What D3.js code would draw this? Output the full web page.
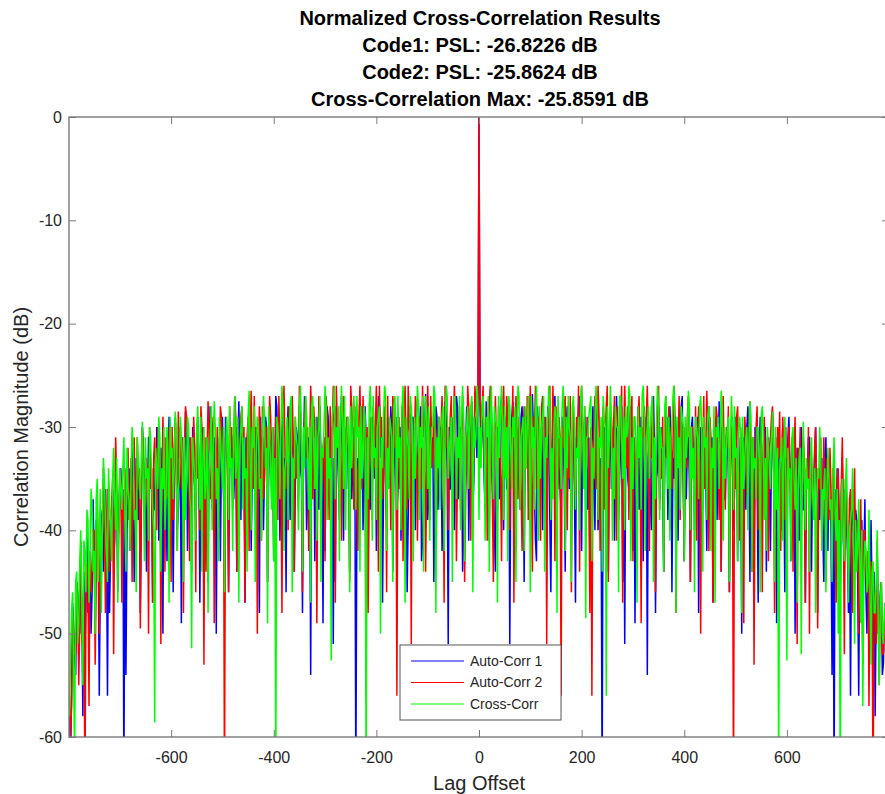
<!DOCTYPE html>
<html><head><meta charset="utf-8">
<script src="https://cdn.jsdelivr.net/npm/d3@7"></script>
<style>
body{margin:0;background:#fff}
svg{display:block;font-family:"Liberation Sans",Arial,Helvetica,sans-serif}
</style>
</head><body>
<svg id="chart" width="885" height="794"></svg>
<script>
const titleLines = ["Normalized Cross-Correlation Results","Code1: PSL: -26.8226 dB","Code2: PSL: -25.8624 dB","Cross-Correlation Max: -25.8591 dB"];
const xLabel = "Lag Offset";
const yLabel = "Correlation Magnitude (dB)";
const seriesNames = ["Auto-Corr 1","Auto-Corr 2","Cross-Corr"];
const seriesColors = ["#0000ff","#ff0000","#00ff00"];
const xTicks = [-600,-400,-200,0,200,400,600];
const yTicks = [0,-10,-20,-30,-40,-50,-60];
const xDomain = [-799, 799];
const yDomain = [-60, 0];
const lagStep = 2;

// Auto-correlations are symmetric: values at lags 0,2,4,...,798 (dB)
const autoCorr1Half = [0,-28,
-33,-30,-29,-35,-38,-27.5,-31,-34,-41,-29,-28,-32,-35,-40,-44,-31,-30,-33,-37,-28,
-27,-33,-40,-29,-32,-36,-36,-30,-51,-34,-29,-27.5,-34,-39,-42,-30,-31,-35,-38,-29,
-28,-34,-45,-31,-33,-29,-30,-37,-39,-32,-26.8,-30,-36,-41,-43,-28,-31,-33,-35,-30,
-40,-31,-29,-35,-37,-28,-32,-39,-46,-33,-30,-27.5,-27,-34,-41,-30,-34,-36,-38,-29,
-31,-35,-44,-30,-28,-33,-36,-29,-39,-32,-30,-36,-47,-31,-33,-28,-27,-34,-42,-30,
-35,-29.5,-29,-34,-38,-31,-43,-33,-31,-28,-36,-40,-28,-32,-40,-35,-33,-38,-65,-31,
-30,-34,-37,-28,-44,-32,-29,-36,-34,-30,-41,-33,-27,-31,-39,-35,-32,-28,-45,-33,
-51,-32,-30,-35,-36,-29,-28,-33,-42,-31,-49,-34,-33,-28,-38,-36,-29,-32,-43,-30,
-35,-29,-54,-33,-31,-37,-40,-30,-27,-32,-48,-35,-34,-28,-37,-31,-30,-36,-44,-33,
-32,-29,-39,-34,-28,-31,-46,-33,-35,-29,-30,-36,-41,-32,-33,-28,-27,-35,-43,-30,
-37,-32,-31,-35,-45,-30,-29,-34,-40,-31,-34,-29,-48,-36,-30,-33,-38,-31,-33,-35,
-42,-30,-28,-33,-36,-31,-47,-35,-31,-29,-39,-34,-27.5,-32,-44,-30,-34,-37,-37,-31,
-30,-35,-46,-32,-33,-29,-40,-36,-29,-33,-43,-31,-36,-34,-50,-32,-31,-36,-38,-30,
-28,-33,-45,-31,-35,-37,-41,-30,-32,-35,-47,-33,-29,-31,-39,-36,-34,-30,-44,-34,
-31,-36,-42,-32,-28.5,-34,-37,-31,-49,-35,-33,-38,-40,-32,-30,-35,-46,-33,-36,-31,
-29,-34,-43,-36,-35,-31,-50,-37,-32,-35,-41,-33,-30,-38,-38,-34,-47,-36,-34,-31,
-31,-37,-44,-35,-36,-33,-30,-38,-48,-36,-39,-34,-33,-40,-45,-35,-31,-37,-42,-34,
-37,-40,-54,-38,-65,-36,-40,-34,-35,-39,-46,-37,-33,-41,-43,-36,-38,-42,-48,-39,
-56,-41,-36,-40,-44,-38,-39,-45,-56,-42,-41,-39,-47,-43,-37,-46,-50,-44,-43,-48,
-39,-46,-52,-44,-58,-48,-42,-50,-49,-46,-45,-54,-53,-49,-47,-56,-62,-58];

const autoCorr2Half = [0,-27,
-30,-28,-26,-33,-36,-29,-41,-31,-28,-26,-33,-37,-45,-30,-27,-32,-38,-28,-31,-35,
-43,-29,-26,-31,-35,-27,-29,-34,-40,-30,-32,-26,-47,-33,-27,-30,-37,-29,-30,-36,
-42,-31,-28,-33,-34,-27,-39,-30,-26,-35,-44,-29,-31,-26,-36,-32,-29,-34,-41,-28,
-27,-32,-35,-29,-51,-31,-30,-26,-38,-33,-26,-30,-43,-28,-33,-36,-29,-31,-56,-30,
-32,-28,-27,-34,-40,-30,-35,-27,-46,-32,-28,-35,-37,-29,-31,-26,-44,-33,-26,-30,
-34,-28,-39,-31,-29,-35,-48,-30,-56,-33,-30,-27,-36,-32,-26,-29,-42,-34,-33,-28,
-38,-31,-28,-26,-45,-33,-31,-29,-35,-30,-27,-34,-41,-28,-37,-32,-30,-26,-47,-31,
-26,-30,-34,-28,-39,-33,-29,-27,-43,-31,-32,-35,-36,-29,-27,-33,-49,-30,-31,-28,
-37,-29,-26,-32,-42,-30,-33,-27,-30,-34,-46,-31,-28,-26,-38,-33,-35,-29,-44,-31,
-27,-33,-31,-28,-40,-30,-36,-32,-26,-29,-48,-34,-32,-27,-39,-31,-29,-35,-43,-30,
-34,-29,-27,-32,-45,-30,-30,-35,-37,-28,-41,-31,-28,-33,-50,-30,-33,-27,-36,-32,
-26.5,-31,-42,-29,-31,-34,-47,-30,-35,-28,-29,-33,-39,-31,-44,-29,-27,-34,-38,-30,
-32,-28,-46,-33,-30,-35,-65,-31,-36,-29,-28,-34,-41,-30,-34,-32,-49,-29,-31,-36,
-37,-30,-27.5,-33,-44,-31,-53,-35,-30,-28,-40,-33,-35,-30,-46,-32,-29,-35,-38,-31,
-43,-32,-31,-29,-28,-34,-48,-31,-36,-30,-33,-28.5,-42,-35,-29,-32,-39,-30,-45,-33,
-30,-35,-37,-31,-44,-33,-29,-36,-51,-32,-34,-30,-40,-35,-31,-33,-47,-34,-36,-30,
-50,-35,-33,-37,-38,-32,-30,-36,-49.5,-34,-36,-31,-41,-37,-31,-35,-45,-33,-37,-39,
-32,-36,-43,-34,-39,-37,-47,-35,-34,-40,-41,-36,-31,-38,-52,-35,-38,-41,-44,-37,
-36,-42,-48,-38,-34,-43,-42,-39,-50,-41,-37,-45,-53,-40,-40,-44,-46,-42,-57,-45,
-43,-48,-65,-46,-47,-51,-41,-49,-55,-47,-45,-52,-52,-50,-48,-57,-60,-56];

// Cross-correlation at lags -798,-796,...,798 (dB)
const crossCorr = [
-58,-52,-48,-46,-54,-62,-45,-44,-51,-49,-43,-40,-47,-55,-41,-42,-46,-38,-39,-47,
-43,-36,-38,-44,-42,-50,-37,-35,-45,-41,-36,-48,-40,-33,-35,-39,-42,-45,-34,-37,
-39,-43,-35,-32,-37,-40,-33,-47,-41,-34,-36,-38,-34,-31,-39,-44,-32,-36,-37,-42,
-34,-30,-32,-39,-38,-46,-31,-33,-35,-37,-33,-29.5,-36,-43,-31,-35,-34,-41,-30,-31,
-35,-38,-40,-58.6,-32,-34,-36,-29,-31,-44,-34,-36,-30,-40,-37,-30,-33,-47,-29,-33,
-32,-37,-34,-28.5,-30,-42,-36,-35,-29,-31,-33,-45,-31,-39,-35,-29,-30,-36,-38,-51.4,
-31,-33,-35,-41,-30,-28,-34,-38,-29,-44,-33,-30,-37,-35,-31,-48,-34,-32,-28,-40,
-32,-27.5,-30,-37,-34,-43,-29,-31,-33,-36,-30,-46,-35,-29,-31,-39,-28,-34,-33,-42,
-30,-27,-35,-33,-29,-47,-32,-30,-28,-38,-31,-35,-34,-44,-29,-26.5,-33,-40,-30,-32,
-28,-45,-33,-29,-30,-36,-35,-41,-31,-27,-29,-34,-32,-49,-28,-31,-34,-38,-30,-43,
-33,-65,-29,-30,-32,-37,-30,-26,-28,-42,-34,-33,-29,-39,-31,-28,-27,-46,-33,-35,
-29,-31,-32,-40,-28,-26,-31,-44,-30,-34,-27,-29,-33,-38,-30,-47,-28,-27,-32,-36,
-29,-41,-31,-30,-27,-45,-32,-33,-30,-26,-28,-39,-31,-35,-33,-52.6,-29,-28,-26,-37,
-30,-32,-28,-43,-31,-26,-29,-36,-27,-40,-32,-29,-30,-46,-28,-34,-31,-27,-29,-38,
-27,-31,-30,-44,-28,-35,-32,-28,-29,-65,-31,-37,-28,-26,-30,-41,-27,-33,-32,-39,
-30,-29,-28,-50,-31,-34,-29,-26,-27,-42,-32,-36,-29,-30,-31,-45,-28,-27,-30,-38,
-27,-33,-31,-40,-28,-26,-30,-47,-29,-31,-32,-37,-27,-28,-30,-43,-29,-35,-31,-26,
-28,-39,-30,-32,-27,-44,-31,-27,-29,-36,-28,-41,-32,-30,-30,-26,-27,-48,-31,-34,
-29,-38,-31,-29,-28,-42,-30,-26,-27,-35,-32,-31,-29,-45,-30,-27,-28,-37,-31,-33,
-27,-40,-30,-26,-29,-43,-31,-30,-28,-36,-30,-28,-27,-46,-29,-32,-31,-26,-28,-39,
-30,-34,-28,-27,-31,-41,-29,-31,-27,-44,-30,-26,-32,-37,-28,-29,-30,-47,-27,-33,
-29,-26,-31,-39,-28,-35,-30,-43,-27,-28,-32,-36,-29,-31,-28,-45,-30,-26,-27,-38,
-31,-30,-29,-42,-28,-34,-30,-27,-32,-46,-27,-32,-30,-38,-29,-26,-31,-41,-28,-35,
-30,-29,-27,-44,-31,-33,-29,-26,-28,-39,-32,-37,-30,-28,-29,-48,-27,-31,-31,-36,
-28,-26,-30,-42,-29,-34,-27,-30,-31,-45,-28,-27,-30,-38,-32,-33,-29,-40,-27,-26,
-30,-36,-28,-48.5,-31,-31,-29,-28,-27,-43,-32,-35,-30,-26,-28,-39,-31,-32,-29,-44,
-27,-29,-30,-56,-28,-34,-31,-26,-29,-41,-32,-37,-28,-30,-30,-46,-27,-27,-31,-35,
-29,-40,-28,-31,-30,-26,-27,-43,-31,-36,-29,-29,-32,-47,-28,-33,-30,-38,-27,-26,
-29,-42,-31,-30,-28,-35,-30,-28,-27,-45,-31,-37,-29,-26,-28,-39,-30,-32,-32,-44,
-28,-27,-30,-36,-29,-41,-31,-30,-27,-26,-30,-48,-29,-34,-31,-38,-28,-29,-30,-43,
-29,-33,-31,-26.5,-28,-40,-30,-35,-32,-46,-29,-30,-31,-37,-28,-27,-30,-44,-29,-32,
-31,-39,-29,-28,-30,-42,-32,-34,-28,-47,-30,-31,-29,-36,-31,-26.5,-28,-41,-30,-35,
-32,-30,-29,-45,-31,-27,-30,-38,-28,-33,-32,-43,-30,-29,-31,-48,-29,-36,-33,-31,
-30,-40,-32,-27.5,-29,-44,-31,-34,-33,-37,-30,-30,-32,-46,-29,-28,-31,-39,-33,-42,
-30,-32,-34,-36,-31,-28.5,-33,-45,-30,-38,-32,-65,-34,-33,-31,-41,-33,-29,-35,-52.6,
-32,-35,-34,-43,-31,-30,-35,-38,-33,-47,-36,-33,-32,-52,-34,-29.5,-35,-40,-33,-36,
-35,-44,-33,-31,-36,-39,-34,-48,-37,-34,-35,-30,-33,-42,-36,-37,-34,-46,-37,-32,
-35,-38,-37,-45,-34,-31,-38,-41,-36,-50,-39,-65,-37,-35,-40,-43,-36,-33,-38,-47,
-40,-39,-38,-34,-42,-51,-39,-44,-41,-37,-43,-49,-40,-57,-44,-41,-42,-46,-45,-38,
-46,-53,-44,-43,-48,-48,-45,-40,-49,-55,-47,-45,-50,-51,-48,-47,-52,-58,-55];

// ---- build series ----
function fromHalf(half){
  const out = [];
  for (let k = half.length - 1; k > 0; k--) out.push({lag: -k * lagStep, v: half[k]});
  half.forEach((v, k) => out.push({lag: k * lagStep, v}));
  return out;
}
const ccStart = -((crossCorr.length - 1) / 2) * lagStep;
const series = [
  fromHalf(autoCorr1Half),
  fromHalf(autoCorr2Half),
  crossCorr.map((v, i) => ({lag: ccStart + i * lagStep, v}))
];

// ---- layout ----
const svg = d3.select("#chart");
const L = 69, R = 889, T = 117, B = 737;
const x = d3.scaleLinear().domain(xDomain).range([L, R]);
const y = d3.scaleLinear().domain(yDomain).range([B, T]);
const axisColor = "#7a7a7a";
const textColor = "#262626";
const fmt = d => String(d);

svg.append("rect").attr("width", 885).attr("height", 794).attr("fill", "#fff");

svg.append("defs").append("clipPath").attr("id", "plotclip")
  .append("rect").attr("x", L).attr("y", T).attr("width", R - L).attr("height", B - T);

const line = d3.line().x(d => x(d.lag)).y(d => y(d.v));
const g = svg.append("g").attr("clip-path", "url(#plotclip)");
series.forEach((s, i) => {
  g.append("path").datum(s).attr("d", line)
    .attr("fill", "none").attr("stroke", seriesColors[i])
    .attr("stroke-width", 1.5).attr("stroke-linejoin", "bevel");
});

// axes
function styleAxis(sel){
  sel.select(".domain").remove();
  sel.selectAll(".tick line").attr("stroke", axisColor).attr("stroke-width", 1);
  sel.selectAll(".tick text").attr("fill", textColor)
     .attr("font-size", 16).attr("font-family", '"Liberation Sans",Arial,sans-serif');
}
svg.append("g").attr("transform", `translate(0,${B})`)
  .call(d3.axisBottom(x).tickValues(xTicks).tickSize(-7).tickPadding(15).tickFormat(fmt))
  .call(styleAxis);
svg.append("g").attr("transform", `translate(0,${T})`)
  .call(d3.axisTop(x).tickValues(xTicks).tickSize(-7).tickFormat(""))
  .call(styleAxis);
svg.append("g").attr("transform", `translate(${L},0)`)
  .call(d3.axisLeft(y).tickValues(yTicks).tickSize(-7).tickPadding(7).tickFormat(fmt))
  .call(styleAxis);
svg.append("g").attr("transform", `translate(${R},0)`)
  .call(d3.axisRight(y).tickValues(yTicks).tickSize(-7).tickFormat(""))
  .call(styleAxis);

// box
svg.append("rect").attr("x", L).attr("y", T).attr("width", R - L).attr("height", B - T)
  .attr("fill", "none").attr("stroke", axisColor).attr("stroke-width", 1.4);

// title
svg.append("g").selectAll("text").data(titleLines).join("text")
  .attr("x", (L + R) / 2 + 1).attr("y", (d, i) => 25 + i * 27)
  .attr("text-anchor", "middle").attr("font-size", 20).attr("font-weight", "bold")
  .attr("fill", "#000").text(d => d);

// axis labels
svg.append("text").attr("x", (L + R) / 2).attr("y", 790)
  .attr("text-anchor", "middle").attr("font-size", 20).attr("fill", textColor).text(xLabel);
svg.append("text").attr("transform", `translate(28,${(T + B) / 2}) rotate(-90)`)
  .attr("text-anchor", "middle").attr("font-size", 20).attr("fill", textColor).text(yLabel);

// legend
const lg = svg.append("g");
lg.append("rect").attr("x", 400).attr("y", 645).attr("width", 161).attr("height", 75)
  .attr("fill", "#fff").attr("stroke", "#555").attr("stroke-width", 1);
seriesNames.forEach((name, i) => {
  const yy = 661 + i * 21.5;
  lg.append("line").attr("x1", 411).attr("x2", 464).attr("y1", yy).attr("y2", yy)
    .attr("stroke", seriesColors[i]).attr("stroke-width", 1);
  lg.append("text").attr("x", 470).attr("y", yy).attr("dy", "0.35em")
    .attr("font-size", 14).attr("fill", textColor).text(name);
});
</script>
</body></html>
